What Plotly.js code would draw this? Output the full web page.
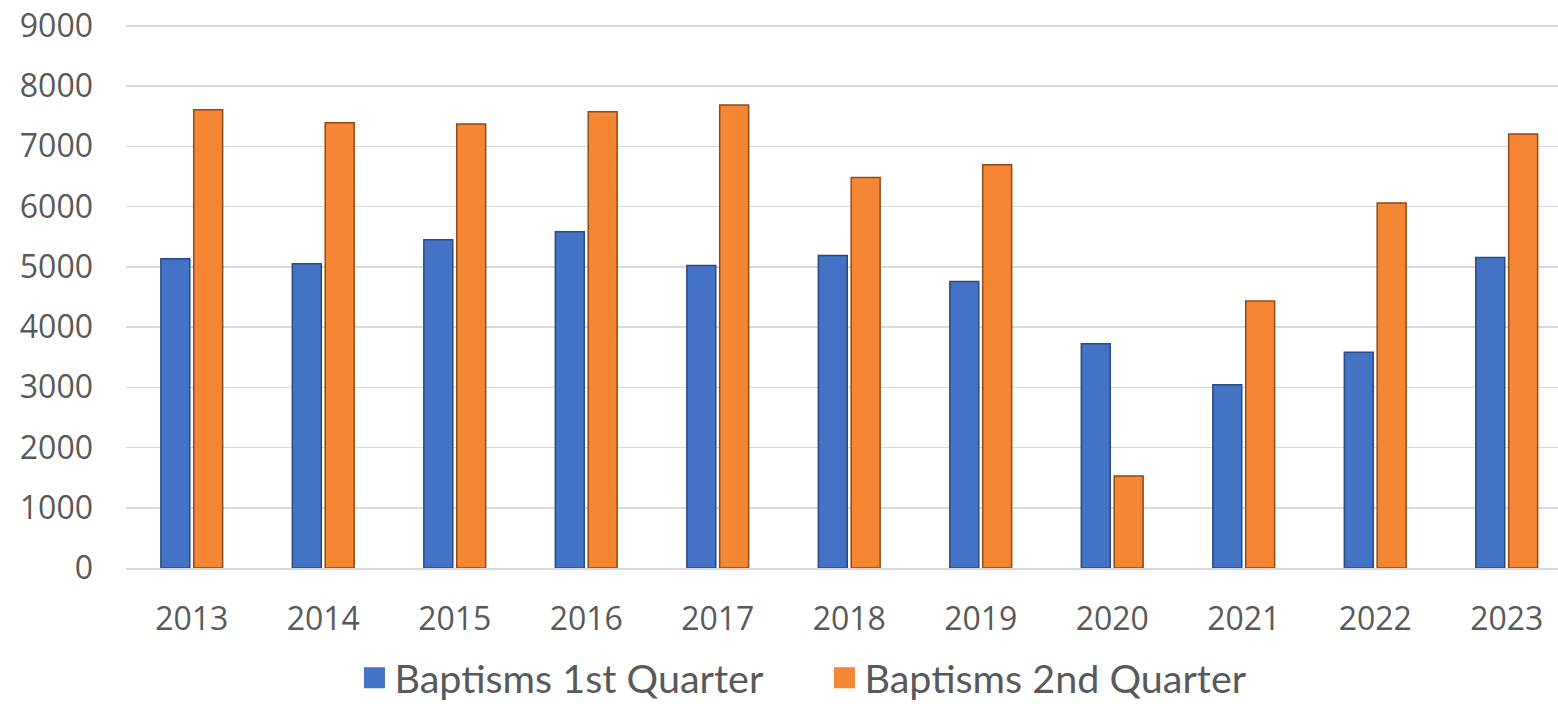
<!DOCTYPE html>
<html>
<head>
<meta charset="utf-8">
<script src="https://cdn.plot.ly/plotly-3.0.1.min.js"></script>
<style>html,body{margin:0;padding:0;background:#fff;}#chart{width:1558px;height:704px;}</style>
</head>
<body>
<div id="chart"></div>
<script>
const years = ["2013","2014","2015","2016","2017","2018","2019","2020","2021","2022","2023"];
const q1 = [5133, 5050, 5449, 5581, 5022, 5188, 4757, 3721, 3040, 3583, 5155];
const q2 = [7608, 7392, 7370, 7575, 7686, 6484, 6694, 1528, 4430, 6058, 7204];
const seriesNames = ["Baptisms 1st Quarter", "Baptisms 2nd Quarter"];
const seriesColors = ["#4472C4", "#F58634"];
const seriesEdges = ["#2A4A85", "#8E4A18"];
const yTicks = [0,1000,2000,3000,4000,5000,6000,7000,8000,9000];

const fontFam = "Open Sans, sans-serif";
const values = [q1, q2];
const traces = [];
values.forEach((v, i) => {
  traces.push({type:"bar", name:seriesNames[i], x:years, y:v, showlegend:false, legendgroup:"s"+i,
    marker:{color:seriesColors[i], line:{color:seriesEdges[i], width:1.5}}});
});
// legend entries (larger square swatches, like the reference)
values.forEach((v, i) => {
  traces.push({type:"scatter", mode:"markers", name:seriesNames[i], x:[null], y:[null], legendgroup:"s"+i,
    marker:{symbol:"square", size:16, color:seriesColors[i], line:{color:seriesColors[i], width:5}}});
});

const layout = {
  width:1558, height:704,
  margin:{l:126, r:0, t:24, b:136},
  paper_bgcolor:"#fff", plot_bgcolor:"#fff",
  barmode:"group", bargap:0.5, bargroupgap:0.12,
  font:{family:fontFam, color:"#595959", size:32},
  xaxis:{type:"category", range:[-0.5, 10.39], showgrid:false, zeroline:false, automargin:false,
         showline:true, linecolor:"#D9D9D9", linewidth:1.5, ticks:"",
         ticklabelstandoff:22, tickfont:{size:32, color:"#595959"}},
  yaxis:{range:[0,9030], tickvals:yTicks, showgrid:true, gridcolor:"#D9D9D9", gridwidth:1.5,
         zeroline:false, showline:false, ticks:"", ticklabelstandoff:32, automargin:false,
         tickfont:{size:32, color:"#595959"}},
  legend:{orientation:"h", xref:"container", yref:"container", x:0.2275, xanchor:"left",
          y:0.037, yanchor:"middle", entrywidth:425,
          font:{family:"Lato, sans-serif", size:39.5, color:"#595959"}, itemwidth:30, traceorder:"normal"},
  showlegend:true
};
Plotly.newPlot("chart", traces, layout, {displayModeBar:false, staticPlot:true});
</script>
</body>
</html>
